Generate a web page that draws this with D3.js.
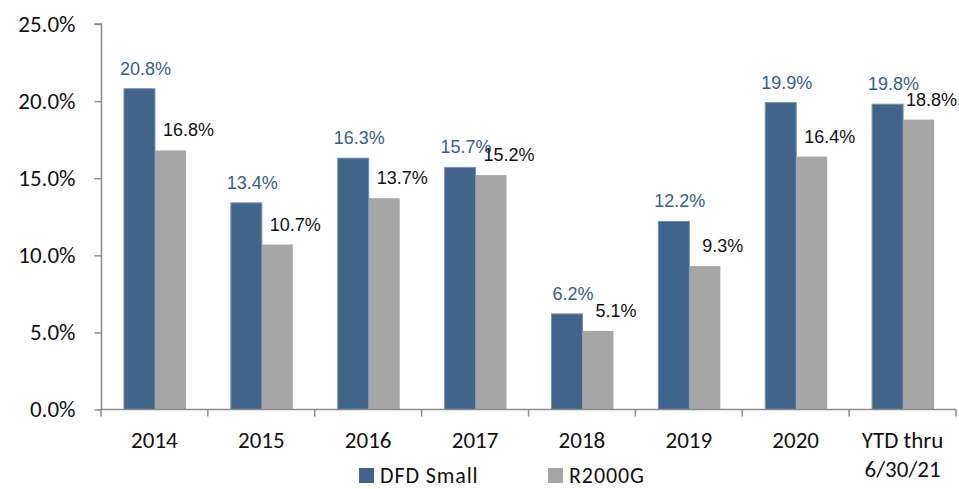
<!DOCTYPE html>
<html>
<head>
<meta charset="utf-8">
<script src="https://cdn.jsdelivr.net/npm/d3@7"></script>
<style>
  body { margin: 0; background: #fff; }
  svg { display: block; }
</style>
</head>
<body>
<div id="container"></div>
<script>
const categories = ["2014", "2015", "2016", "2017", "2018", "2019", "2020", "YTD thru\n6/30/21"];
const seriesNames = ["DFD Small", "R2000G"];
const dfdSmall = [20.8, 13.4, 16.3, 15.7, 6.2, 12.2, 19.9, 19.8];
const r2000g = [16.8, 10.7, 13.7, 15.2, 5.1, 9.3, 16.4, 18.8];
const yTicks = [0, 5, 10, 15, 20, 25];

const width = 959, height = 489;
const colors = {"DFD Small": "#41648a", "R2000G": "#a6a6a6"};
const labelColors = {"DFD Small": "#36608f", "R2000G": "#111"};
const labelShift = {"DFD Small": 6, "R2000G": 18};
const axisColor = "#8c8c8c";
const tickFont = "Calibri, Carlito, Lato, sans-serif";

const rows = categories.map((c, i) => ({
    cat: c,
    values: [
        {key: "DFD Small", value: dfdSmall[i]},
        {key: "R2000G", value: r2000g[i]}
    ]
}));

const svg = d3.select("#container").append("svg")
    .attr("width", width)
    .attr("height", height);

const x0 = d3.scaleBand().domain(categories).range([101, 956]).padding(0);
const bw = x0.bandwidth();
const x1 = d3.scaleBand().domain(seriesNames).range([bw * 0.215, bw * 0.795]).padding(0);
const y = d3.scaleLinear().domain([0, 25]).range([409.5, 24]);

// y axis
const yAxis = svg.append("g")
    .attr("transform", "translate(101.5,0)")
    .call(d3.axisLeft(y).tickValues(yTicks).tickSize(7).tickFormat(d => d.toFixed(1) + "%"));
yAxis.selectAll("path, line").attr("stroke", axisColor).attr("stroke-width", 1.5);
yAxis.select(".domain").attr("d", `M-7,${y(25)}H0V${y(0)}`);
yAxis.selectAll("text")
    .attr("x", -26)
    .attr("fill", "#111")
    .style("font-family", tickFont)
    .style("font-size", "23px");

// groups
const group = svg.append("g").selectAll("g")
    .data(rows)
    .join("g")
    .attr("transform", d => `translate(${x0(d.cat)},0)`);

group.selectAll("rect")
    .data(d => d.values)
    .join("rect")
    .attr("x", d => x1(d.key))
    .attr("y", d => y(d.value))
    .attr("width", x1.bandwidth())
    .attr("height", d => y(0) - y(d.value))
    .attr("fill", d => colors[d.key])
    .attr("stroke", d => d.key === "DFD Small" ? "#6f92b8" : "none")
    .attr("stroke-width", 1);

group.selectAll("text.val")
    .data(d => d.values)
    .join("text")
    .attr("class", "val")
    .attr("x", d => x1(d.key) + x1.bandwidth() / 2 + labelShift[d.key])
    .attr("y", d => y(d.value) - 14)
    .attr("text-anchor", "middle")
    .attr("fill", d => labelColors[d.key])
    .style("font-family", "'Liberation Sans', Arial, sans-serif")
    .style("font-size", "18px")
    .text(d => d.value.toFixed(1) + "%")
    .each(function() {
        // keep labels inside the right edge
        const b = this.getBBox();
        const m = this.parentNode.transform.baseVal.consolidate().matrix;
        const over = m.e + b.x + b.width - (width - 2);
        if (over > 0) d3.select(this).attr("x", +d3.select(this).attr("x") - over);
    });

// x axis
svg.append("line")
    .attr("x1", 101).attr("x2", 956)
    .attr("y1", y(0)).attr("y2", y(0))
    .attr("stroke", axisColor).attr("stroke-width", 1.5);

svg.append("g").selectAll("line")
    .data(categories.map(c => x0(c)).concat([x0.range()[1]]))
    .join("line")
    .attr("x1", d => d).attr("x2", d => d)
    .attr("y1", y(0)).attr("y2", y(0) + 7)
    .attr("stroke", axisColor).attr("stroke-width", 1.5);

const catLabels = svg.append("g").selectAll("text")
    .data(categories)
    .join("text")
    .attr("x", d => x0(d) + bw / 2)
    .attr("y", 448)
    .attr("text-anchor", "middle")
    .attr("fill", "#111")
    .style("font-family", tickFont)
    .style("font-size", "23px");
catLabels.selectAll("tspan")
    .data(d => d.split("\n").map(t => ({t, cx: x0(d) + bw / 2})))
    .join("tspan")
    .attr("x", d => d.cx)
    .attr("dy", (d, i) => i === 0 ? 0 : 29)
    .text(d => d.t);

// legend
const legendX = [359, 548];
const legend = svg.append("g").selectAll("g")
    .data(seriesNames)
    .join("g")
    .attr("transform", (d, i) => `translate(${legendX[i]},468)`);
legend.append("rect")
    .attr("width", 15).attr("height", 15)
    .attr("fill", d => colors[d]);
legend.append("text")
    .attr("x", 21).attr("y", 15)
    .attr("fill", "#111")
    .style("font-family", tickFont)
    .style("font-size", "22px")
    .style("letter-spacing", "0.9px")
    .text(d => d);
</script>
</body>
</html>
